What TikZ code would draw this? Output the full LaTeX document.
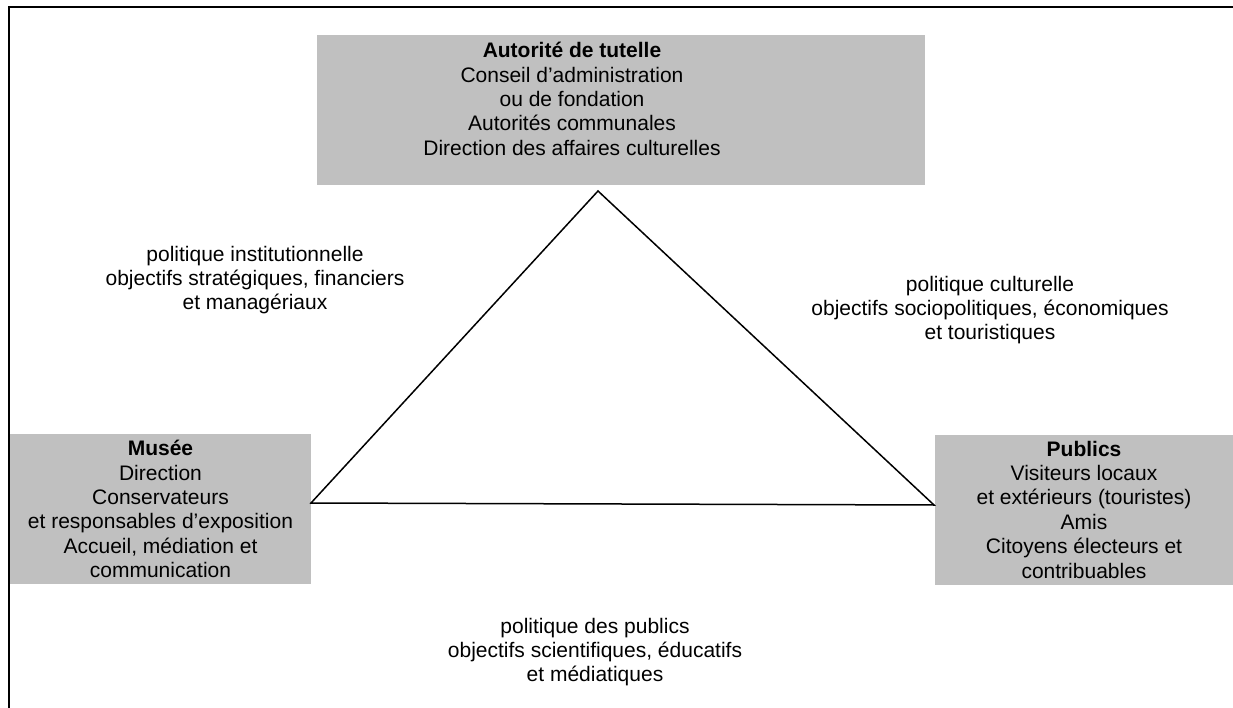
\documentclass[tikz,border=0pt]{standalone}
\usepackage{fontspec}
\setmainfont{Liberation Sans}
\usetikzlibrary{positioning}
\definecolor{boxgray}{HTML}{C0C0C0}

\begin{document}
\begin{tikzpicture}[x=1pt,y=-1pt,
  txt/.style={align=center,font=\fontsize{21}{24.4}\selectfont,inner sep=0pt},
  boite/.style={fill=boxgray,draw=none,inner sep=0pt}]
  \useasboundingbox (0,0) rectangle (1233,708);

  % cadre
  \draw [line width=2pt] (9,708) -- (9,7) -- (1233,7);

  % autorite de tutelle
  \node [boite,minimum width=608pt,minimum height=150pt] (tutelle) at (621,110) {};
  \node [txt] (tutelletxt) at (572,99) {\textbf{Autorité de tutelle}\\Conseil d’administration\\ou de fondation\\Autorités communales\\Direction des affaires culturelles};

  % musee
  \node [boite,txt,minimum width=301pt,minimum height=150pt] (musee) at (160.5,509) {\textbf{Musée}\\Direction\\Conservateurs\\et responsables d’exposition\\Accueil, médiation et\\communication};

  % publics
  \node [boite,txt,minimum width=298pt,minimum height=150pt] (publics) at (1084,509.5) {\textbf{Publics}\\Visiteurs locaux\\et extérieurs (touristes)\\Amis\\Citoyens électeurs et\\contribuables};

  % triangle
  \coordinate (sommet) at (598,191);
  \coordinate (gauche) at (311,503);
  \coordinate (droite) at (934,505);
  \draw [line width=1.5pt] (sommet) -- (gauche) -- (droite) -- cycle;

  % politiques
  \node [txt] (institution) at (255,280) {politique institutionnelle\\objectifs stratégiques, financiers\\et managériaux};
  \node [txt] (culture) at (990,310) {politique culturelle\\objectifs sociopolitiques, économiques\\et touristiques};
  \node [txt] (publicpol) at (595,652) {politique des publics\\objectifs scientifiques, éducatifs\\et médiatiques};
\end{tikzpicture}
\end{document}
